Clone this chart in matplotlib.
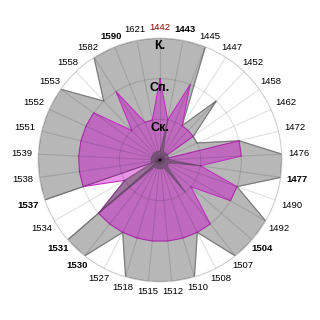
import numpy as np
import matplotlib.pyplot as plt

# categories (years) clockwise from the top
years = ['1442', '1443', '1445', '1447', '1452', '1458', '1462', '1472', '1476', '1477',
         '1490', '1492', '1504', '1507', '1508', '1510', '1512', '1515', '1518', '1527',
         '1530', '1531', '1534', '1537', '1538', '1539', '1551', '1552', '1553', '1558',
         '1582', '1590', '1621']
bold_years = ['1443', '1477', '1504', '1530', '1531', '1537', '1590']
red_years = ['1442']

# levels: 1 = Ск., 2 = Сп., 3 = К.
k_vals = [3, 3, 3, 1, 2, 1, 1, 2, 3, 3,
          2, 3, 3, 3, 2, 3, 3, 3, 3, 2,
          3, 3, 0, 3, 3, 3, 3, 3, 3, 2,
          3, 3, 3]
sp_vals = [2, 1, 2, 1, 1, 1, 0, 2, 2, 1,
           2, 2, 1, 2, 2, 2, 2, 2, 2, 2,
           2, 2, 1, 2, 2, 2, 2, 2, 2, 1,
           2, 1, 1]
sk_vals = [0.22, 1, 0.22, 0.22, 0.22, 0.22, 0.22, 0.22, 0.22, 1,
           0.22, 0.22, 0.22, 1, 0.22, 0.22, 0.22, 0.22, 0.22, 0.22,
           0.22, 2, 1, 0.22, 0.22, 0.22, 0.22, 0.22, 0.22, 0.22,
           0.22, 0.22, 0.22]
level_names = ['Ск.', 'Сп.', 'К.']
level_pos = [0.78, 1.76, 2.8]

n = len(years)
theta = np.linspace(0, 2 * np.pi, n, endpoint=False)
theta_c = np.append(theta, theta[0])


def closed(v):
    return np.append(v, v[0])


fig = plt.figure(figsize=(3.2, 3.2), dpi=100)
ax = fig.add_axes([38 / 320, 38 / 320, 244 / 320, 244 / 320], projection='polar')
ax.set_theta_zero_location('N')
ax.set_theta_direction(-1)
ax.set_ylim(0, 3)

# series
ax.fill(theta_c, closed(k_vals), color='#b7b7b7', zorder=1)
ax.plot(theta_c, closed(k_vals), color='#7a7a7a', lw=0.8, zorder=1.1)
ax.fill(theta_c, closed(sp_vals), color='#cc00cc', alpha=0.42, lw=0, zorder=1.2)
ax.plot(theta_c, closed(sp_vals), color='#c030c0', lw=0.8, zorder=1.3)
ax.fill(theta_c, closed(sk_vals), color='#505050', alpha=0.5, lw=0, zorder=1.4)
ax.plot(theta_c, closed(sk_vals), color='#6a4a6a', lw=0.6, alpha=0.7, zorder=1.5)

# grid
ax.set_axisbelow(False)
ax.set_xticks(theta)
ax.set_xticklabels([])
ax.set_yticks([1, 2, 3])
ax.set_yticklabels([])
ax.grid(True, color='black', alpha=0.12, lw=0.8)
ax.spines['polar'].set_color('#dddddd')
ax.spines['polar'].set_linewidth(0.8)

# year labels outside the circle
for th, lab in zip(theta, years):
    s, c = np.sin(th), np.cos(th)
    w2, h2 = 10.5, 4.5
    d = min(w2 / max(abs(s), 1e-6), h2 / max(abs(c), 1e-6))
    off = (6 + d) * 0.72
    col = '#8b0000' if lab in red_years else 'black'
    wt = 'bold' if lab in bold_years else 'normal'
    ax.annotate(lab, xy=(th, 3), xytext=(off * s, off * c), textcoords='offset points',
                ha='center', va='center', fontsize=6.8, color=col, fontweight=wt,
                family='Liberation Sans', annotation_clip=False)

# level names
for lab, r in zip(level_names, level_pos):
    ax.text(0, r, lab, ha='center', va='center', fontsize=9, fontweight='bold',
            family='Liberation Sans', zorder=5)

fig.savefig('out.png', dpi=100)
